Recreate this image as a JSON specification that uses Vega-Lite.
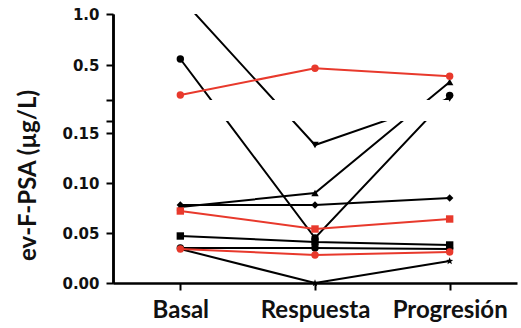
{
  "$schema": "https://vega.github.io/schema/vega-lite/v6.json",
  "background": "white",
  "padding": {"left": 15, "top": 7, "right": 2, "bottom": 3},
  "bounds": "flush",
  "spacing": 21,
  "config": {"view": {"stroke": null}},
  "datasets": {
    "d": [
      {"patient": "p1", "phase": "Basal", "t": 1, "value": 0.563, "grp": "black", "marker": "circle"},
      {"patient": "p1", "phase": "Respuesta", "t": 2, "value": 0.045, "grp": "black", "marker": "circle"},
      {"patient": "p1", "phase": "Progresión", "t": 3, "value": 0.21, "grp": "black", "marker": "circle"},
      {"patient": "p2", "phase": "Basal", "t": 1, "value": 1.16, "grp": "black", "marker": "triangle-down"},
      {"patient": "p2", "phase": "Respuesta", "t": 2, "value": 0.138, "grp": "black", "marker": "triangle-down"},
      {"patient": "p2", "phase": "Progresión", "t": 3, "value": 0.18, "grp": "black", "marker": "triangle-down"},
      {"patient": "p3", "phase": "Basal", "t": 1, "value": 0.076, "grp": "black", "marker": "triangle-up"},
      {"patient": "p3", "phase": "Respuesta", "t": 2, "value": 0.09, "grp": "black", "marker": "triangle-up"},
      {"patient": "p3", "phase": "Progresión", "t": 3, "value": 0.34, "grp": "black", "marker": "triangle-up"},
      {"patient": "p4", "phase": "Basal", "t": 1, "value": 0.078, "grp": "black", "marker": "diamond"},
      {"patient": "p4", "phase": "Respuesta", "t": 2, "value": 0.078, "grp": "black", "marker": "diamond"},
      {"patient": "p4", "phase": "Progresión", "t": 3, "value": 0.085, "grp": "black", "marker": "diamond"},
      {"patient": "p5", "phase": "Basal", "t": 1, "value": 0.047, "grp": "black", "marker": "square"},
      {"patient": "p5", "phase": "Respuesta", "t": 2, "value": 0.041, "grp": "black", "marker": "square"},
      {"patient": "p5", "phase": "Progresión", "t": 3, "value": 0.038, "grp": "black", "marker": "square"},
      {"patient": "p6", "phase": "Basal", "t": 1, "value": 0.035, "grp": "black", "marker": "circle"},
      {"patient": "p6", "phase": "Respuesta", "t": 2, "value": 0.035, "grp": "black", "marker": "circle"},
      {"patient": "p6", "phase": "Progresión", "t": 3, "value": 0.034, "grp": "black", "marker": "circle"},
      {"patient": "p7", "phase": "Basal", "t": 1, "value": 0.034, "grp": "black", "marker": "star"},
      {"patient": "p7", "phase": "Respuesta", "t": 2, "value": 0.0, "grp": "black", "marker": "star"},
      {"patient": "p7", "phase": "Progresión", "t": 3, "value": 0.022, "grp": "black", "marker": "star"},
      {"patient": "p8", "phase": "Basal", "t": 1, "value": 0.214, "grp": "red", "marker": "circle"},
      {"patient": "p8", "phase": "Respuesta", "t": 2, "value": 0.473, "grp": "red", "marker": "circle"},
      {"patient": "p8", "phase": "Progresión", "t": 3, "value": 0.395, "grp": "red", "marker": "circle"},
      {"patient": "p9", "phase": "Basal", "t": 1, "value": 0.072, "grp": "red", "marker": "square"},
      {"patient": "p9", "phase": "Respuesta", "t": 2, "value": 0.054, "grp": "red", "marker": "square"},
      {"patient": "p9", "phase": "Progresión", "t": 3, "value": 0.064, "grp": "red", "marker": "square"},
      {"patient": "p10", "phase": "Basal", "t": 1, "value": 0.034, "grp": "red", "marker": "circle"},
      {"patient": "p10", "phase": "Respuesta", "t": 2, "value": 0.028, "grp": "red", "marker": "circle"},
      {"patient": "p10", "phase": "Progresión", "t": 3, "value": 0.031, "grp": "red", "marker": "circle"}
    ]
  },
  "vconcat": [
    {
      "width": 404,
      "height": 86,
      "data": {"name": "d"},
      "encoding": {
        "x": {"field": "phase", "type": "ordinal", "sort": ["Basal", "Respuesta", "Progresión"],
              "scale": {"type": "point", "padding": 0.5}, "axis": null},
        "y": {"field": "value", "type": "quantitative",
              "scale": {"domain": [0, 0.162, 0.165, 1], "range": [269, 107, 86, 0], "nice": false, "zero": false},
              "axis": {"values": [0.165, 0.5, 1], "title": null, "grid": false,
                       "labelExpr": "datum.value < 0.2 ? '' : format(datum.value, '.1f')",
                       "labelFont": "DejaVu Sans", "labelFontWeight": "bold", "labelFontSize": 15, "labelColor": "#111",
                       "labelPadding": 7, "tickSize": 7, "tickWidth": 2, "tickColor": "#000",
                       "domainColor": "#000", "domainWidth": 2.5}},
        "color": {"field": "grp", "type": "nominal", "scale": {"domain": ["black", "red"], "range": ["#000000", "#e8392c"]}, "legend": null}
      },
      "layer": [
        {"mark": {"type": "line", "clip": true, "strokeWidth": 2},
         "encoding": {"detail": {"field": "patient"}, "order": {"field": "t"}}},
        {"transform": [{"filter": "datum.value >= 0.165 && datum.value <= 1"}],
         "mark": {"type": "point", "filled": true, "opacity": 1, "size": 55},
         "encoding": {"shape": {"field": "marker", "type": "nominal",
           "scale": {"domain": ["circle", "square", "triangle-up", "triangle-down", "diamond", "star"],
                     "range": ["circle", "square", "triangle-up", "triangle-down", "diamond", "M0,-1L0.25,-0.35L0.95,-0.3L0.4,0.15L0.6,0.85L0,0.45L-0.6,0.85L-0.4,0.15L-0.95,-0.3L-0.25,-0.35Z"]},
           "legend": null}}}
      ]
    },
    {
      "width": 404,
      "height": 162,
      "data": {"name": "d"},
      "encoding": {
        "x": {"field": "phase", "type": "ordinal", "sort": ["Basal", "Respuesta", "Progresión"],
              "scale": {"type": "point", "padding": 0.5},
              "axis": {"title": null, "labelAngle": 0, "labelFont": "Lato", "labelFontWeight": "bold", "labelFontSize": 24,
                       "labelColor": "#111", "labelPadding": 8, "tickSize": 7, "tickWidth": 2, "tickColor": "#000",
                       "domainColor": "#000", "domainWidth": 2.5}},
        "y": {"field": "value", "type": "quantitative",
              "scale": {"domain": [0, 0.162, 0.165, 1], "range": [162, 0, -21, -107], "nice": false, "zero": false},
              "axis": {"values": [0, 0.05, 0.1, 0.15, 0.162], "title": "ev-F-PSA (µg/L)", "grid": false,
                       "labelExpr": "datum.value > 0.155 ? '' : format(datum.value, '.2f')",
                       "labelFont": "DejaVu Sans", "labelFontWeight": "bold", "labelFontSize": 15, "labelColor": "#111",
                       "labelPadding": 7, "tickSize": 7, "tickWidth": 2, "tickColor": "#000",
                       "domainColor": "#000", "domainWidth": 2.5,
                       "titleFont": "Lato", "titleFontWeight": "bold", "titleFontSize": 24, "titleColor": "#111",
                       "titleX": -73, "titleY": 54, "titleAnchor": null}},
        "color": {"field": "grp", "type": "nominal", "scale": {"domain": ["black", "red"], "range": ["#000000", "#e8392c"]}, "legend": null}
      },
      "layer": [
        {"mark": {"type": "line", "clip": true, "strokeWidth": 2},
         "encoding": {"detail": {"field": "patient"}, "order": {"field": "t"}}},
        {"transform": [{"filter": "datum.value < 0.165"}],
         "mark": {"type": "point", "filled": true, "opacity": 1, "size": 55},
         "encoding": {"shape": {"field": "marker", "type": "nominal",
           "scale": {"domain": ["circle", "square", "triangle-up", "triangle-down", "diamond", "star"],
                     "range": ["circle", "square", "triangle-up", "triangle-down", "diamond", "M0,-1L0.25,-0.35L0.95,-0.3L0.4,0.15L0.6,0.85L0,0.45L-0.6,0.85L-0.4,0.15L-0.95,-0.3L-0.25,-0.35Z"]},
           "legend": null}}}
      ]
    }
  ]
}
